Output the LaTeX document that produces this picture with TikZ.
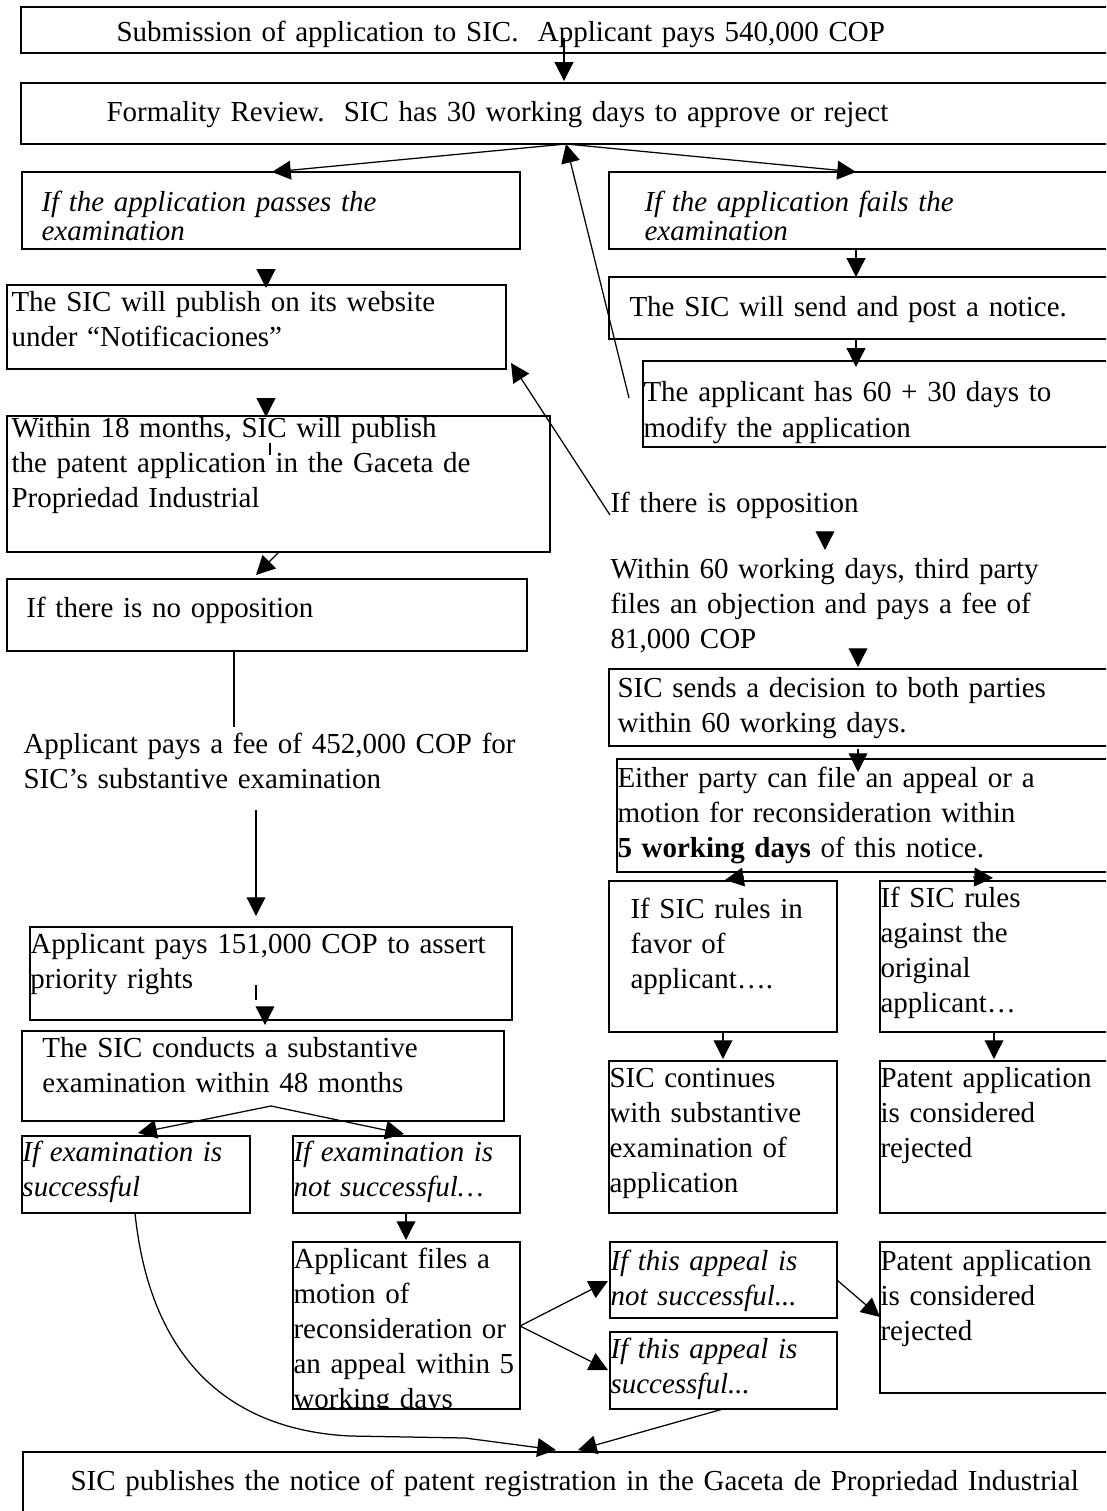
\documentclass[tikz,border=0pt]{standalone}
\usepackage{fontspec}
\setmainfont{Liberation Serif}
\usetikzlibrary{arrows.meta,calc}
\newcommand{\mybox}[5]{\node[box, minimum width={(#4-#2)*0.4pt}, minimum height={(#5-#3)*0.4pt}] (#1) at (#2,#3) {};}
\begin{document}
\begin{tikzpicture}[x=0.4pt,y=-0.4pt,
  font=\fontsize{11.6pt}{14pt}\selectfont,
  box/.style={draw, line width=0.6pt, inner sep=0pt, outer sep=0pt, anchor=north west},
  txt/.style={inner sep=0pt, anchor=base west, align=left, text width=440pt},
  itx/.style={txt, font=\fontsize{11.6pt}{14pt}\selectfont\itshape},
  itt/.style={txt, font=\fontsize{11.6pt}{11.6pt}\selectfont\itshape},
  arr/.style={line width=0.5pt, -{Triangle[length=7.5pt,width=7.5pt]}},
  ln/.style={line width=0.5pt}]
\useasboundingbox (0,0) rectangle (1106,1511);
\clip (0,0) rectangle (1106,1511);

% ---------- boxes ----------
\mybox{A}{21}{7}{1115}{53}
\mybox{Fm}{21}{83}{1115}{144}
\mybox{B1}{22}{172}{520}{249}
\mybox{B2}{609}{172}{1115}{249}
\mybox{C1}{7}{285}{506}{369}
\mybox{C2}{609}{277}{1115}{339}
\mybox{D1}{7}{416}{550}{552}
\mybox{D2}{643}{361}{1115}{447}
\mybox{E1}{7}{579}{527}{651}
\mybox{F2}{609}{669}{1115}{746}
\mybox{G2}{617}{759}{1115}{872}
\mybox{H1}{609}{881}{837}{1032}
\mybox{H2}{880}{881}{1115}{1032}
\mybox{F1}{30}{927}{512}{1020}
\mybox{G1}{22}{1031}{504}{1121}
\mybox{HL}{22}{1136}{250}{1213}
\mybox{HR}{293}{1136}{520}{1213}
\mybox{I1}{609}{1061}{837}{1213}
\mybox{I2}{880}{1061}{1115}{1213}
\mybox{J}{293}{1242}{520}{1409}
\mybox{K1}{610}{1242}{837}{1318}
\mybox{K2}{610}{1332}{837}{1409}
\mybox{K3}{880}{1242}{1115}{1393}
\mybox{L}{23}{1452}{1115}{1520}

% ---------- texts ----------
\node[txt] (tA) at (116,42) {Submission of application to SIC.\ \ Applicant pays 540,000 COP};
\node[txt] (tFm) at (106,122) {Formality Review.\ \ SIC has 30 working days to approve or reject};
\node[itt] (tB1) at (41,212) {If the application passes the\\examination};
\node[itt] (tB2) at (644,212) {If the application fails the\\examination};
\node[txt] (tC1) at (11,312) {The SIC will publish on its website\\under “Notificaciones”};
\node[txt] (tC2) at (629,317) {The SIC will send and post a notice.};
\node[txt] (tD2) at (643,402) {The applicant has 60 + 30 days to\\modify the application};
\node[txt] (tD1) at (11,437) {Within 18 months, SIC will publish\\the patent application in the Gaceta de\\Propriedad Industrial};
\node[txt] (opp) at (610,512) {If there is opposition};
\node[txt] (tE1) at (26,617) {If there is no opposition};
\node[txt] (w60) at (610,578) {Within 60 working days, third party\\files an objection and pays a fee of\\81,000 COP};
\node[txt] (fee) at (23,753) {Applicant pays a fee of 452,000 COP for\\SIC’s substantive examination};
\node[txt] (tF2) at (617,697) {SIC sends a decision to both parties\\within 60 working days.};
\node[txt] (tG2) at (617,787) {Either party can file an appeal or a\\motion for reconsideration within\\\textbf{5 working days} of this notice.};
\node[txt] (tH1) at (630,918) {If SIC rules in\\favor of\\applicant….};
\node[txt] (tH2) at (880,907) {If SIC rules\\against the\\original\\applicant…};
\node[txt] (tF1) at (30,953) {Applicant pays 151,000 COP to assert\\priority rights};
\node[txt] (tG1) at (42,1057) {The SIC conducts a substantive\\examination within 48 months};
\node[txt] (tI1) at (609,1087) {SIC continues\\with substantive\\examination of\\application};
\node[txt] (tI2) at (880,1087) {Patent application\\is considered\\rejected};
\node[itx] (tHL) at (22,1161) {If examination is\\successful};
\node[itx] (tHR) at (293,1161) {If examination is\\not successful…};
\begin{scope}
\clip (J.north west) rectangle (J.south east);
\node[txt] (tJ) at (293,1268) {Applicant files a\\motion of\\reconsideration or\\an appeal within 5\\working days};
\end{scope}
\node[itx] (tK1) at (610,1270) {If this appeal is\\not successful...};
\node[itx] (tK2) at (610,1358) {If this appeal is\\successful...};
\node[txt] (tK3) at (880,1270) {Patent application\\is considered\\rejected};
\node[txt] (tL) at (70,1490) {SIC publishes the notice of patent registration in the Gaceta de Propriedad Industrial};

% ---------- connector end points ----------
\coordinate (a0) at (564,38);
\coordinate (f0) at (566,143);
\coordinate (d2s) at (629,398);
\coordinate (b1t) at (272,172);
\coordinate (b2t) at (856,172);
\coordinate (c1a) at (266,270);
\coordinate (d1a) at (266,399);
\coordinate (d1s) at (279,552);
\coordinate (e1t) at (256,575);
\coordinate (opps) at (610,515);
\coordinate (c1r) at (511,363);
\coordinate (oppa) at (825,532);
\coordinate (w60a) at (858,650);
\coordinate (g2l) at (744,877);
\coordinate (g2r) at (973,877);
\coordinate (hx1) at (723,1031);
\coordinate (hx2) at (994,1031);
\coordinate (e1s) at (234,651);
\coordinate (e1e) at (234,727);
\coordinate (fee0) at (256,810);
\coordinate (g1a) at (265,1007);
\coordinate (g1s) at (271,1106);
\coordinate (hl) at (138,1133);
\coordinate (hr) at (404,1134);
\coordinate (hrj) at (406,1212);
\coordinate (jm) at (520,1326);
\coordinate (k1l) at (608,1281);
\coordinate (k2l) at (608,1370);
\coordinate (k1r) at (837,1280);
\coordinate (k3l) at (880,1317);
\coordinate (k2b) at (723,1409);
\coordinate (lt1) at (578,1450);
\coordinate (lt2) at (556,1450);
\coordinate (cv0) at (135,1216);
\coordinate (cv1) at (350,1436);
\coordinate (cv2) at (465,1438);

% ---------- connectors ----------
\draw[arr] (a0) -- ($(Fm.north -| a0)+(0,-2)$);
\draw[arr] (Fm.south -| f0) -- (b1t);
\draw[arr] (Fm.south -| f0) -- (b2t);
\draw[arr] (d2s) -- (Fm.south -| f0);
\draw[arr] (c1a) -- ($(C1.north -| c1a)+(0,3)$);
\draw[arr] (d1a) -- ($(D1.north -| d1a)+(0,1)$);
\draw[ln] (270,443) -- (270,455);
\draw[arr] (D1.south -| d1s) -- (e1t);
\draw[arr] (opps) -- (c1r);
\draw[arr] (B2.south -| b2t) -- (C2.north -| b2t);
\draw[arr] (C2.south -| b2t) -- ($(D2.north -| b2t)+(0,6)$);
\draw[arr] (oppa) -- ($(oppa)+(0,18)$);
\draw[arr] (w60a) -- ($(F2.north -| w60a)+(0,-2)$);
\draw[arr] ($(F2.south -| w60a)+(0,3)$) -- ($(G2.north -| w60a)+(0,13)$);
\draw[arr] (g2l) -- ($(g2l)+(-19,3)$);
\draw[arr] (g2r) -- ($(g2r)+(20,1)$);
\draw[arr] (hx1) -- ($(I1.north -| hx1)+(0,-2)$);
\draw[arr] (hx2) -- ($(I2.north -| hx2)+(0,-2)$);
\draw[ln] (E1.south -| e1s) -- (e1e);
\draw[arr] (fee0) -- ($(F1.north -| fee0)+(0,-11)$);
\draw[ln] (256,985) -- (256,1000);
\draw[arr] (g1a) -- ($(G1.north -| g1a)+(0,-6)$);
\draw[arr] (g1s) -- (hl);
\draw[arr] (g1s) -- (hr);
\draw[arr] (HR.south -| hrj) -- ($(J.north -| hrj)+(0,-2)$);
\draw[arr] (J.east |- jm) -- (k1l);
\draw[arr] (J.east |- jm) -- (k2l);
\draw[arr] (k1r) -- (K3.west |- k3l);
\draw[arr] (K2.south -| k2b) -- (lt1);
\draw[arr] (HL.south -| cv0) .. controls (150,1360) and (230,1430) .. (cv1) -- (cv2) -- (lt2);
\end{tikzpicture}
\end{document}
